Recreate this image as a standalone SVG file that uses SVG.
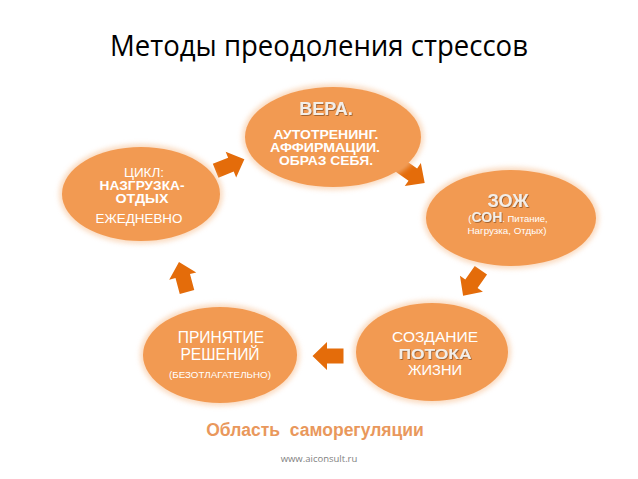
<svg xmlns="http://www.w3.org/2000/svg" width="638" height="479" viewBox="0 0 638 479">
  <defs>
    <style>
      .node { fill: #F29A52; }
      .halo { fill: #F7C49A; opacity: 0.6; }
      .arrow { fill: #E46C0A; }
      .t { font-family: "Liberation Sans", Arial, sans-serif; fill: #FFFFFF; text-anchor: middle; }
      .b { font-weight: bold; }
      .hi { fill: #F3EEE8; font-weight: bold; filter: url(#sh); }
    </style>
    <filter id="soft" x="-20%" y="-20%" width="140%" height="140%">
      <feGaussianBlur stdDeviation="2.5"/>
    </filter>
    <filter id="sh" x="-10%" y="-20%" width="120%" height="150%">
      <feDropShadow dx="0.8" dy="0.8" stdDeviation="0.4" flood-color="#6B3A12" flood-opacity="0.7"/>
    </filter>
    <polygon id="arr" points="-15.5,-7.5 1,-7.5 1,-14 15.5,0 1,14 1,7.5 -15.5,7.5"/>
  </defs>
  <rect width="638" height="479" fill="#FFFFFF"/>

  <text x="319" y="56" font-family="'Open Sans', 'Noto Sans', sans-serif" font-size="29" fill="#000000" text-anchor="middle" textLength="418" lengthAdjust="spacingAndGlyphs">Методы преодоления стрессов</text>

  <g id="connectors">
    <use href="#arr" class="arrow" transform="translate(230,165) rotate(-22)"/>
    <use href="#arr" class="arrow" transform="translate(412,174) rotate(35)"/>
    <use href="#arr" class="arrow" transform="translate(472,283) rotate(125)"/>
    <use href="#arr" class="arrow" transform="translate(328,356) rotate(180)"/>
    <use href="#arr" class="arrow" transform="translate(183,277) rotate(-105)"/>
  </g>

  <g id="node-vera">
    <ellipse class="halo" cx="333" cy="137" rx="91" ry="53" filter="url(#soft)"/>
    <ellipse class="node" cx="333" cy="137" rx="88" ry="50"/>
    <text class="t hi" x="326" y="115" font-size="18">ВЕРА.</text>
    <text class="t b" x="326" y="138.5" font-size="12.5" textLength="105" lengthAdjust="spacingAndGlyphs">АУТОТРЕНИНГ.</text>
    <text class="t b" x="325" y="151.5" font-size="12.5" textLength="110" lengthAdjust="spacingAndGlyphs">АФФИРМАЦИИ.</text>
    <text class="t b" x="326" y="165" font-size="12.5" textLength="94" lengthAdjust="spacingAndGlyphs">ОБРАЗ СЕБЯ.</text>
  </g>

  <g id="node-zozh">
    <ellipse class="halo" cx="511" cy="218" rx="88" ry="51" filter="url(#soft)"/>
    <ellipse class="node" cx="511" cy="218" rx="85" ry="48"/>
    <text class="t hi" x="508" y="207" font-size="18">ЗОЖ</text>
    <text class="t" x="508" y="222" font-size="9.5"><tspan>(</tspan><tspan class="hi" font-size="14">СОН</tspan><tspan>. Питание,</tspan></text>
    <text class="t" x="507" y="234" font-size="9.8">Нагрузка, Отдых)</text>
  </g>

  <g id="node-sozdanie">
    <ellipse class="halo" cx="432" cy="352" rx="79" ry="52" filter="url(#soft)"/>
    <ellipse class="node" cx="432" cy="352" rx="76" ry="49"/>
    <text class="t" x="435" y="342" font-size="14" textLength="86" lengthAdjust="spacingAndGlyphs">СОЗДАНИЕ</text>
    <text class="t hi" x="435" y="358.5" font-size="14.5" textLength="73" lengthAdjust="spacingAndGlyphs">ПОТОКА</text>
    <text class="t" x="435" y="375" font-size="14.5" textLength="54" lengthAdjust="spacingAndGlyphs">ЖИЗНИ</text>
  </g>

  <g id="node-prinyatie">
    <ellipse class="halo" cx="220" cy="355" rx="80" ry="51" filter="url(#soft)"/>
    <ellipse class="node" cx="220" cy="355" rx="77" ry="48"/>
    <text class="t" x="221" y="343" font-size="15.6">ПРИНЯТИЕ</text>
    <text class="t" x="220" y="360" font-size="15.6">РЕШЕНИЙ</text>
    <text class="t" x="220" y="378" font-size="9.8">(БЕЗОТЛАГАТЕЛЬНО)</text>
  </g>

  <g id="node-cikl">
    <ellipse class="halo" cx="141" cy="194" rx="82" ry="50" filter="url(#soft)"/>
    <ellipse class="node" cx="141" cy="194" rx="79" ry="47"/>
    <text class="t" x="144" y="177" font-size="13.5">ЦИКЛ:</text>
    <text class="t b" x="142" y="190" font-size="12" textLength="85" lengthAdjust="spacingAndGlyphs">НАЗГРУЗКА-</text>
    <text class="t b" x="142" y="202.5" font-size="12" textLength="53" lengthAdjust="spacingAndGlyphs">ОТДЫХ</text>
    <text class="t" x="139" y="223" font-size="13.4">ЕЖЕДНЕВНО</text>
  </g>

  <text x="315" y="436" font-family="'Liberation Sans', Arial, sans-serif" font-size="17.5" font-weight="bold" fill="#E9985C" text-anchor="middle" xml:space="preserve">Область  саморегуляции</text>
  <text x="319" y="462" font-family="'Open Sans', 'Liberation Sans', sans-serif" font-size="9.5" fill="#7F7F7F" text-anchor="middle">www.aiconsult.ru</text>
</svg>
